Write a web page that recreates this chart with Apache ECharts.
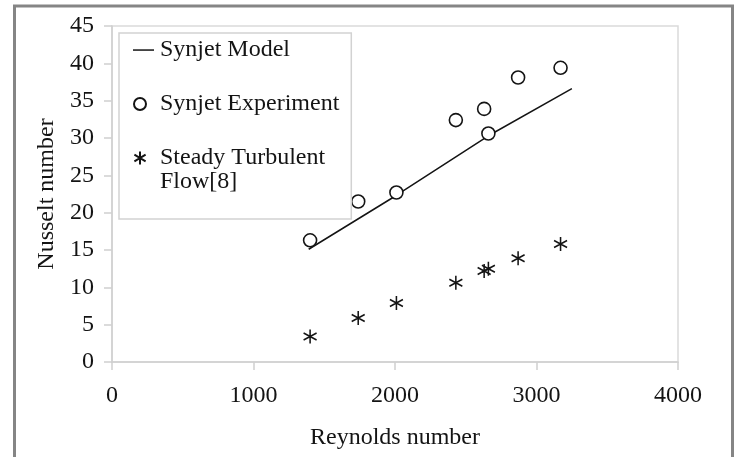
<!DOCTYPE html>
<html>
<head>
<meta charset="utf-8">
<script src="https://cdn.jsdelivr.net/npm/echarts@6/dist/echarts.min.js"></script>
<style>
  html, body { margin: 0; padding: 0; background: #fff; }
  #chart { width: 739px; height: 457px; }
</style>
</head>
<body>
<div id="chart"></div>
<script>
// Heat transfer: Nusselt number against Reynolds number
const seriesNames = ['Synjet Model', 'Synjet Experiment', 'Steady Turbulent Flow[8]'];

// Synjet model (straight fit)
const modelRe = [1390, 2000, 2660, 3250];
const modelNu = [15.1, 22.2, 30.3, 36.6];

// Synjet experiment
const expRe = [1400, 1740, 2010, 2430, 2630, 2660, 2870, 3170];
const expNu = [16.3, 21.5, 22.7, 32.4, 33.9, 30.6, 38.1, 39.4];

// Steady turbulent flow, reference [8]
const turbRe = [1400, 1740, 2010, 2430, 2630, 2660, 2870, 3170];
const turbNu = [3.4, 5.9, 7.9, 10.6, 12.2, 12.5, 13.9, 15.8];

// Axis ticks
const xTicks = [0, 1000, 2000, 3000, 4000];
const yTicks = [0, 5, 10, 15, 20, 25, 30, 35, 40, 45];

const xName = 'Reynolds number';
const yName = 'Nusselt number';

const FONT = '"Liberation Serif", "Times New Roman", serif';
const INK = '#141414';
const AXIS_GREY = '#cfcfcf';

const pairs = (xs, ys) => xs.map((x, i) => [x, ys[i]]);

// asterisk marker: vertical bar crossed by two diagonals
const STAR = 'path://M6,0L6,12M0.8,3L11.2,9M0.8,9L11.2,3';
// legend icons padded to a 22x13 box so each glyph sits where it should
const LEG_LINE = 'path://M0,0M22,13M0,5.8L21,5.8L21,7.3L0,7.3Z';
const LEG_CIRCLE = 'path://M0,0M22,13M1,6.5A6,6 0 1 1 13,6.5A6,6 0 1 1 1,6.5Z';
const LEG_STAR = 'path://M0,0M22,13M7,0L7,13M1.4,3.2L12.6,9.8M1.4,9.8L12.6,3.2';

const chart = echarts.init(document.getElementById('chart'), null, { renderer: 'canvas' });

const axisCommon = {
  axisLine: { show: true, lineStyle: { color: AXIS_GREY, width: 1.5 } },
  axisTick: { show: true, inside: false, length: 8, lineStyle: { color: AXIS_GREY, width: 1.5 } },
  splitLine: { show: false },
  nameTextStyle: { fontFamily: FONT, fontSize: 24, color: INK },
};

chart.setOption({
  backgroundColor: '#fff',
  animation: false,
  graphic: [{
    type: 'rect',
    silent: true,
    z: 100,
    shape: { x: 14.5, y: 6, width: 718, height: 480 },
    style: { fill: 'none', stroke: '#858585', lineWidth: 3 }
  }],
  grid: {
    left: 112, top: 26, right: 61, bottom: 95,
    show: true, borderColor: '#dadada', borderWidth: 1.5, backgroundColor: 'transparent'
  },
  legend: {
    orient: 'vertical',
    left: 119, top: 33,
    padding: [5, 12, 25, 13],
    itemGap: 30,
    itemWidth: 22, itemHeight: 13,
    backgroundColor: '#fff',
    borderColor: '#d2d2d2', borderWidth: 1.5,
    textStyle: { fontFamily: FONT, fontSize: 24, lineHeight: 24, color: INK,
                 rich: { a: { fontFamily: FONT, fontSize: 24, lineHeight: 24, color: INK } } },
    formatter: name => name === seriesNames[2]
      ? '{a|Steady Turbulent}\n{a|Flow[8]}'
      : name,
    selectedMode: false,
    data: [
      { name: seriesNames[0], icon: LEG_LINE, itemStyle: { color: INK, borderWidth: 0 } },
      { name: seriesNames[1], icon: LEG_CIRCLE },
      { name: seriesNames[2], icon: LEG_STAR, textStyle: { height: 24 } }
    ]
  },
  xAxis: Object.assign({}, axisCommon, {
    type: 'value',
    min: xTicks[0], max: xTicks[xTicks.length - 1], interval: xTicks[1] - xTicks[0],
    name: xName, nameLocation: 'middle', nameGap: 64,
    axisLabel: { fontFamily: FONT, fontSize: 24, color: INK, margin: 22, formatter: v => String(v) }
  }),
  yAxis: Object.assign({}, axisCommon, {
    type: 'value',
    min: yTicks[0], max: yTicks[yTicks.length - 1], interval: yTicks[1] - yTicks[0],
    name: yName, nameLocation: 'middle', nameGap: 53,
    axisLabel: { fontFamily: FONT, fontSize: 24, color: INK, margin: 18, formatter: v => String(v) }
  }),
  series: [
    {
      name: seriesNames[0],
      type: 'line',
      data: pairs(modelRe, modelNu),
      symbol: 'none',
      showSymbol: false,
      lineStyle: { color: INK, width: 1.5 },
      itemStyle: { color: INK },
      z: 2
    },
    {
      name: seriesNames[1],
      type: 'scatter',
      data: pairs(expRe, expNu),
      symbol: 'circle',
      symbolSize: 13,
      itemStyle: { color: '#fff', borderColor: INK, borderWidth: 1.6, opacity: 1 },
      z: 3
    },
    {
      name: seriesNames[2],
      type: 'scatter',
      data: pairs(turbRe, turbNu),
      symbol: STAR,
      symbolSize: [13, 14],
      itemStyle: { color: 'transparent', borderColor: INK, borderWidth: 1.6, opacity: 1 },
      z: 3
    }
  ]
});
</script>
</body>
</html>
